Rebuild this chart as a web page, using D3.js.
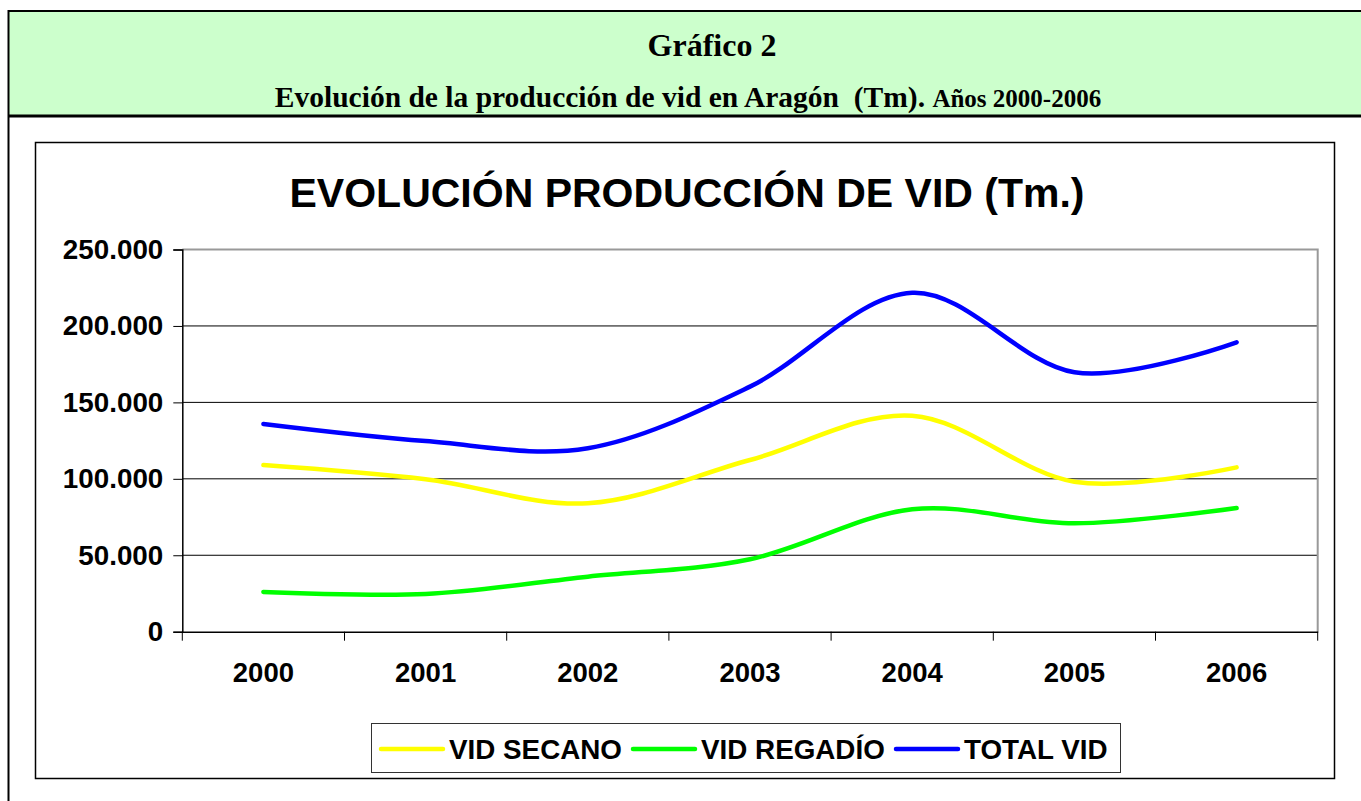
<!DOCTYPE html>
<html><head><meta charset="utf-8">
<script src="https://cdn.jsdelivr.net/npm/d3@7"></script>
<style>html,body{margin:0;padding:0;background:#fff;}svg{display:block;}</style>
</head><body>
<svg id="c" width="1361" height="801"></svg>
<script>
const years = ["2000","2001","2002","2003","2004","2005","2006"];
const vidSecano = [109000, 99700, 84000, 112300, 141300, 98100, 107500];
const vidRegadio = [26000, 24700, 36000, 47400, 80100, 70900, 80900];
const totalVid = [135900, 124700, 120000, 160300, 221700, 169700, 189300];
const seriesNames = ["VID SECANO", "VID REGADÍO", "TOTAL VID"];
const yTicks = [0, 50000, 100000, 150000, 200000, 250000];

(function(){
const series = [
  {name: seriesNames[0], values: vidSecano, color: "#FFFF00"},
  {name: seriesNames[1], values: vidRegadio, color: "#00FF00"},
  {name: seriesNames[2], values: totalVid, color: "#0000FF"}
];

const svg = d3.select("#c");
const serif = "'Liberation Serif','Times New Roman',serif";
const sans = "'Liberation Sans',Arial,sans-serif";

// Header band
svg.append("rect").attr("x", 8).attr("y", 10.5).attr("width", 1361).attr("height", 105)
  .attr("fill", "#CCFFCC");
svg.append("line").attr("x1", 8).attr("x2", 1361).attr("y1", 11).attr("y2", 11).attr("stroke", "#000").attr("stroke-width", 2);
svg.append("line").attr("x1", 8).attr("x2", 1361).attr("y1", 116).attr("y2", 116).attr("stroke", "#000").attr("stroke-width", 3);
svg.append("line").attr("x1", 8.5).attr("x2", 8.5).attr("y1", 10).attr("y2", 801).attr("stroke", "#000").attr("stroke-width", 2);

svg.append("text").attr("x", 712).attr("y", 56).attr("text-anchor", "middle")
  .attr("font-family", serif).attr("font-weight", "bold").attr("font-size", 32)
  .text("Gráfico 2");
const sub = svg.append("text").attr("x", 688).attr("y", 107).attr("text-anchor", "middle")
  .attr("font-family", serif).attr("font-weight", "bold");
sub.append("tspan").attr("font-size", 29.5).text("Evolución de la producción de vid en Aragón\u00a0\u00a0(Tm). ");
sub.append("tspan").attr("font-size", 25).text("Años 2000-2006");

// Chart box
svg.append("rect").attr("x", 35.5).attr("y", 142.5).attr("width", 1299).attr("height", 636)
  .attr("fill", "#fff").attr("stroke", "#000").attr("stroke-width", 1.5);

svg.append("text").attr("x", 687).attr("y", 207).attr("text-anchor", "middle")
  .attr("font-family", sans).attr("font-weight", "bold").attr("font-size", 41)
  .text("EVOLUCIÓN PRODUCCIÓN DE VID (Tm.)");

// Scales
const pLeft = 182.3, pRight = 1317.7, pTop = 249.5, pBottom = 631.7;
const x = d3.scaleBand().domain(years).range([pLeft, pRight]).padding(0);
const xc = d => x(d) + x.bandwidth() / 2;
const y = d3.scaleLinear().domain([0, 250000]).range([pBottom, pTop]);
const loc = d3.formatLocale({decimal: ",", thousands: ".", grouping: [3], currency: ["", "€"]});
const fmt = loc.format(",");

// gridlines
svg.append("g").selectAll("line").data(yTicks.filter(t => t > 0 && t < 250000)).join("line")
  .attr("x1", pLeft).attr("x2", pRight).attr("y1", d => y(d)).attr("y2", d => y(d))
  .attr("stroke", "#000").attr("stroke-width", 1);

// plot border (gray top/right)
svg.append("path").attr("d", `M${pLeft},${pTop}H${pRight}V${pBottom}`)
  .attr("fill", "none").attr("stroke", "#999").attr("stroke-width", 2);

// Y axis
const yAxis = d3.axisLeft(y).tickValues(yTicks).tickSize(9).tickPadding(10).tickFormat(fmt);
const gy = svg.append("g").attr("transform", `translate(${pLeft},0)`).call(yAxis);
gy.select(".domain").attr("stroke", "#000").attr("stroke-width", 1.5);
gy.selectAll(".tick line").attr("stroke", "#000");
gy.selectAll(".tick text").attr("font-family", sans).attr("font-weight", "bold").attr("font-size", 27.8).attr("fill", "#000");

// X axis
const xAxis = d3.axisBottom(x).tickSize(0).tickPadding(31);
const gx = svg.append("g").attr("transform", `translate(0,${pBottom})`).call(xAxis);
gx.select(".domain").attr("stroke", "#000").attr("stroke-width", 1.5);
gx.selectAll(".tick text").attr("font-family", sans).attr("font-weight", "bold").attr("font-size", 27.5).attr("fill", "#000");
const bounds = years.map(d => x(d)).concat([pRight]);
svg.append("g").selectAll("line").data(bounds).join("line")
  .attr("x1", d => d).attr("x2", d => d).attr("y1", pBottom).attr("y2", pBottom + 9)
  .attr("stroke", "#000").attr("stroke-width", 1);

// Lines
const line = d3.line().x((d, i) => xc(years[i])).y(d => y(d)).curve(d3.curveCatmullRom.alpha(0));
svg.append("g").selectAll("path").data(series).join("path")
  .attr("d", s => line(s.values)).attr("fill", "none")
  .attr("stroke", s => s.color).attr("stroke-width", 4.5)
  .attr("stroke-linecap", "round").attr("stroke-linejoin", "round");

// Legend
svg.append("rect").attr("x", 371.5).attr("y", 723.5).attr("width", 749).attr("height", 49)
  .attr("fill", "#fff").attr("stroke", "#333").attr("stroke-width", 1);
const legX = [381, 633, 896];
const lg = svg.append("g").selectAll("g").data(series).join("g")
  .attr("transform", (d, i) => `translate(${legX[i]},749)`);
lg.append("line").attr("x1", 0).attr("x2", 62).attr("y1", 0).attr("y2", 0)
  .attr("stroke", d => d.color).attr("stroke-width", 4.5).attr("stroke-linecap", "round");
lg.append("text").attr("x", 68).attr("y", 0).attr("dy", "0.35em")
  .attr("font-family", sans).attr("font-weight", "bold").attr("font-size", 27.8).text(d => d.name);
})();
</script>
</body></html>
